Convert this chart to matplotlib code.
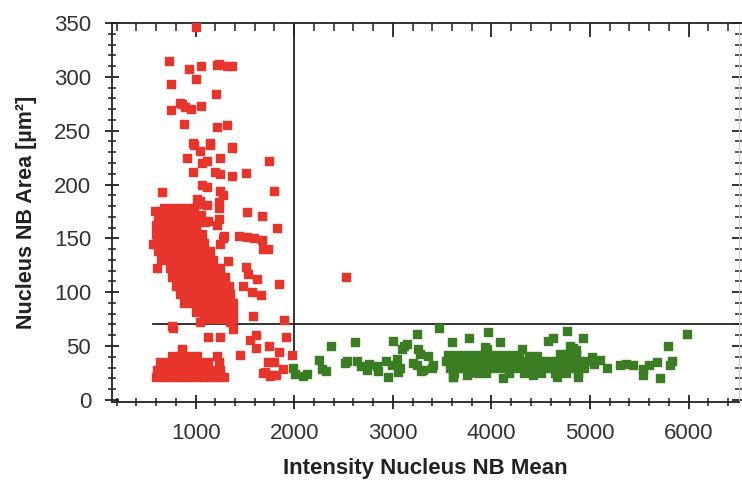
import numpy as np
import matplotlib
matplotlib.use("Agg")
import matplotlib.pyplot as plt
from matplotlib.ticker import MultipleLocator

plt.rcParams['font.family'] = ['Liberation Sans', 'DejaVu Sans']

# ---- data (intensity, area) ----
red_sparse = [
    (1000, 346), (730, 315), (933, 307), (1051, 310), (1214, 311), (1235, 312), (1320, 310),
    (1370, 310), (747, 293), (1001, 298), (1204, 284), (747, 269), (838, 276), (859, 275),
    (889, 272), (953, 270), (1051, 273), (882, 256), (1220, 253), (1321, 255),
    (987, 237), (1044, 231), (1146, 237), (1247, 225), (1372, 234), (910, 225), (1061, 220),
    (1115, 222), (1196, 212), (1247, 210), (1372, 208), (1508, 211), (970, 212), (1744, 222),
    (1068, 200), (1115, 198), (1247, 194), (1280, 190), (1798, 194), (662, 193), (1240, 184),
    (1044, 185), (1010, 187), (1112, 181), (973, 239), (1146, 239), (1366, 235),
]
red_mid = [
    (1524, 174), (1676, 171), (1237, 168), (1822, 160), (1440, 152), (1518, 151), (1592, 150),
    (1670, 148), (1290, 152), (1686, 140), (1737, 140), (1129, 166), (1214, 162), (1247, 145),
    (1280, 150), (1331, 129), (1240, 178), (1020, 182), (1050, 172), (1095, 165),
    (588, 175), (571, 145), (605, 122),
]
red_right = [
    (1511, 123), (1534, 117), (1626, 112), (1849, 108), (1484, 106), (1568, 100), (1660, 97),
    (1579, 78), (1896, 74), (757, 69), (774, 67), (1044, 72), (1129, 58), (1247, 58), (1382, 66),
    (1350, 72), (1551, 56), (1611, 60), (1612, 48), (1747, 50), (1913, 58), (865, 46),
    (1450, 42), (1849, 44), (1980, 42), (2525, 114), (1320, 85), (1380, 90),
    (1737, 35), (1790, 35), (1703, 26), (1771, 23), (1820, 23), (1889, 29), (1750, 22), (1680, 25),
]
red_core = [
    (680, 178), (760, 178), (840, 178), (920, 178), (980, 178),
    (620, 170), (700, 170), (780, 170), (860, 170), (940, 170), (1000, 170),
    (600, 162), (680, 162), (760, 162), (840, 162), (920, 162), (1000, 162),
    (600, 154), (680, 154), (760, 154), (840, 154), (920, 154), (1000, 154), (1060, 154),
    (610, 146), (690, 146), (770, 146), (850, 146), (930, 146), (1010, 146), (1090, 146),
    (620, 138), (700, 138), (780, 138), (860, 138), (940, 138), (1020, 138), (1100, 138), (1150, 138),
    (650, 130), (730, 130), (810, 130), (890, 130), (970, 130), (1050, 130), (1130, 130), (1180, 130),
    (740, 122), (820, 122), (900, 122), (980, 122), (1060, 122), (1140, 122), (1220, 122), (1250, 122),
    (760, 114), (840, 114), (920, 114), (1000, 114), (1080, 114), (1160, 114), (1240, 114), (1300, 114),
    (800, 106), (880, 106), (960, 106), (1040, 106), (1120, 106), (1200, 106), (1280, 106), (1340, 106),
    (840, 98), (920, 98), (1000, 98), (1080, 98), (1160, 98), (1240, 98), (1320, 98), (1350, 98),
    (880, 90), (960, 90), (1040, 90), (1120, 90), (1200, 90), (1280, 90), (1370, 90),
    (1000, 82), (1080, 82), (1160, 82), (1240, 82), (1320, 82), (1380, 82),
    (1080, 75), (1160, 75), (1240, 75), (1320, 75), (1380, 75),
]
red_lower = [
    (600, 21), (670, 21), (740, 21), (810, 21), (880, 21), (950, 21), (1020, 21), (1090, 21),
    (1160, 21), (1230, 21), (1290, 21),
    (610, 28), (690, 28), (770, 28), (850, 28), (930, 28), (1010, 28), (1090, 28), (1170, 28), (1250, 28),
    (640, 35), (720, 35), (800, 35), (880, 35), (960, 35), (1040, 35), (1130, 35), (1240, 35),
    (760, 41), (840, 41), (920, 41), (1010, 41), (1214, 41), (865, 47),
]
green_left = [
    (1990, 30), (2010, 24), (2090, 22), (2130, 24), (2254, 37), (2278, 29), (2322, 27), (2373, 50),
    (2515, 34), (2540, 36), (2616, 54), (2640, 36), (2680, 31), (2734, 28), (2760, 33), (2836, 31),
    (2852, 27), (2954, 21), (3005, 55), (2930, 36), (2990, 32), (3040, 38), (3070, 30), (3052, 26),
    (3113, 50), (3090, 47), (3140, 52), (3242, 61), (3255, 47), (3275, 43), (3204, 34), (3245, 32),
    (3281, 27), (3306, 28), (3356, 41), (3393, 30), (3411, 32), (3471, 67), (3596, 54), (3606, 21),
]
green_band = [
    (3560, 42), (3640, 42), (3720, 42), (3800, 42), (3880, 42), (3960, 42), (4040, 42), (4120, 42),
    (4200, 42), (4280, 42), (4380, 41), (4460, 41), (4700, 43), (4780, 43), (4860, 43),
    (3540, 36), (3620, 36), (3700, 36), (3780, 36), (3860, 36), (3940, 36), (4020, 36), (4100, 36),
    (4180, 36), (4260, 36), (4340, 36), (4420, 36), (4500, 36), (4580, 36), (4660, 36), (4740, 36),
    (4820, 36), (4900, 36), (4960, 36),
    (3580, 30), (3660, 30), (3740, 30), (3820, 30), (3900, 30), (3980, 30), (4060, 30), (4140, 30),
    (4220, 30), (4300, 30), (4380, 30), (4460, 30), (4540, 30), (4620, 30), (4700, 30), (4780, 30),
    (4860, 30), (4940, 30),
    (3620, 25), (3760, 25), (3860, 25), (3950, 25), (4180, 25), (4330, 25), (4500, 25), (4640, 25),
    (4760, 25), (4880, 25),
    (3613, 21), (3749, 23), (3800, 26), (4120, 20), (4424, 23), (4661, 21), (4880, 21),
    (3776, 57), (3968, 63), (3934, 49), (3960, 47), (4087, 54), (4306, 47), (4577, 55), (4627, 57),
    (4763, 64), (4830, 48), (4931, 57), (4800, 50), (4860, 46),
]
green_right = [
    (5020, 40), (5040, 33), (5100, 37), (5170, 30), (5303, 32), (5370, 33), (5435, 32), (5540, 29),
    (5600, 32), (5680, 35), (5540, 23), (5710, 20), (5795, 50), (5810, 32), (5830, 36), (5986, 61),
]

gate_x = 2000
gate_y = 70

red = np.array(red_sparse + red_mid + red_right + red_core + red_lower)
green = np.array(green_left + green_band + green_right)

fig = plt.figure(figsize=(7.42, 4.82), dpi=100)
ax = fig.add_axes([112 / 742, 80 / 482, 627 / 742, 379 / 482])

red_c = '#e8352b'
green_c = '#3b7d22'
ax.scatter(red[:, 0], red[:, 1], marker='s', s=34, c=red_c, edgecolors=red_c, linewidths=1.0, zorder=3)
ax.scatter(green[:, 0], green[:, 1], marker='s', s=34, c=green_c, edgecolors=green_c, linewidths=1.0, zorder=3)

# gate lines
ax.plot([gate_x, gate_x], [40, 350], color='#222222', lw=1.3, zorder=2)
ax.plot([570, 6600], [gate_y, gate_y], color='#222222', lw=1.3, zorder=2)

ax.set_xlim(152, 6511)
ax.set_ylim(-2, 350)

ax.xaxis.set_major_locator(MultipleLocator(1000))
ax.xaxis.set_minor_locator(MultipleLocator(200))
ax.yaxis.set_major_locator(MultipleLocator(50))
ax.yaxis.set_minor_locator(MultipleLocator(10))

for s in ['left', 'bottom', 'top']:
    ax.spines[s].set_color('#222222')
    ax.spines[s].set_linewidth(1.3)
ax.spines['right'].set_color('#cccccc')
ax.spines['right'].set_linewidth(0.8)

ax.tick_params(axis='both', which='major', direction='inout', length=10, width=1.3,
               color='#222222', labelsize=16, labelcolor='#333333')
ax.tick_params(axis='both', which='minor', direction='inout', length=6, width=1.1, color='#222222')
ax.tick_params(axis='x', which='both', top=True, labeltop=False)
ax.tick_params(axis='x', which='major', pad=10)
ax.tick_params(axis='y', which='both', right=True, labelright=False)
ax.tick_params(axis='y', which='major', pad=10)
for t in ax.xaxis.get_major_ticks() + ax.xaxis.get_minor_ticks():
    t.tick2line.set_marker(3)
for t in ax.yaxis.get_major_ticks() + ax.yaxis.get_minor_ticks():
    t.tick2line.set_color('#999999')

ax.set_xlabel('Intensity Nucleus NB Mean', fontsize=16, fontweight='bold', color='#222222', labelpad=10)
ax.set_ylabel('Nucleus NB Area [µm²]', fontsize=15.5, fontweight='bold', color='#222222', labelpad=12)

fig.savefig('out.png', dpi=100)
